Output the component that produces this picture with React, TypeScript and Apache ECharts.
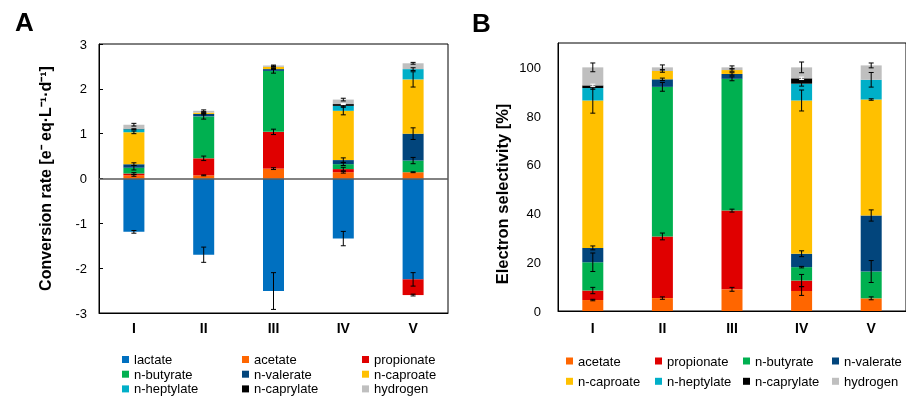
import React, { useEffect, useRef } from "react";
import * as echarts from "echarts";

const categories = ["I", "II", "III", "IV", "V"];
const yTicksA = [-3, -2, -1, 0, 1, 2, 3];

// Panel A: conversion rates [e- eq L-1 d-1]
const lactateA = [-1.19, -1.7, -2.51, -1.34, -2.25];
const acetateA = [0.07, 0.07, 0.22, 0.14, 0.14];
const propionateA = [0.04, 0.38, 0.82, 0.07, -0.35];
const butyrateA = [0.13, 0.935, 1.36, 0.11, 0.26];
const valerateA = [0.08, 0.055, 0.04, 0.09, 0.6];
const caproateA = [0.71, 0.03, 0.05, 1.1, 1.21];
const heptylateA = [0.07, 0, 0, 0.11, 0.23];
const caprylateA = [0.01, 0, 0, 0.04, 0];
const hydrogenA = [0.09, 0.04, 0.03, 0.1, 0.13];

const lactateErrA = [0.03, 0.17, 0.41, 0.16, 0.15];
const acetateErrA = [0.02, 0.01, 0.02, 0.02, 0.01];
const propionateErrA = [0.02, 0.05, 0.06, 0.04, 0.02];
const butyrateErrA = [0.05, 0.06, 0.05, 0.03, 0.07];
const valerateErrA = [0.03, 0.02, 0.01, 0.05, 0.13];
const caproateErrA = [0.03, 0.01, 0.01, 0.09, 0.17];
const heptylateErrA = [0.01, 0, 0, 0.03, 0.03];
const caprylateErrA = [0, 0, 0, 0.01, 0];
const hydrogenErrA = [0.03, 0.02, 0.01, 0.03, 0.02];

// Panel B: electron selectivity [%]
const acetateB = [4.5, 5.3, 8.9, 8.2, 5.2];
const propionateB = [3.9, 25.3, 32.3, 4.3, 0];
const butyrateB = [11.6, 61.4, 54.1, 5.5, 11.0];
const valerateB = [5.9, 3.1, 2.0, 5.5, 23.0];
const caproateB = [60.5, 3.4, 1.6, 62.9, 47.6];
const heptylateB = [5.1, 0, 0, 6.9, 8.1];
const caprylateB = [1.1, 0, 0, 2.2, 0];
const hydrogenB = [7.4, 1.5, 1.1, 4.5, 5.9];

const acetateErrB = [0.3, 0.5, 0.8, 1.8, 0.6];
const propionateErrB = [1.3, 1.4, 0.6, 2.5, 0];
const butyrateErrB = [3.8, 1.8, 0.8, 0.3, 4.5];
const valerateErrB = [0.8, 0.5, 0.5, 1.2, 2.3];
const caproateErrB = [5.2, 0.5, 0.5, 4.3, 0.3];
const heptylateErrB = [0.5, 0, 0, 1.0, 3.0];
const caprylateErrB = [0.5, 0, 0, 0.5, 0];
const hydrogenErrB = [1.8, 1.0, 0.6, 2.2, 1.0];

const colors: Record<string, string> = {
  lactate: "#0070C0",
  acetate: "#FF6600",
  propionate: "#E00000",
  "n-butyrate": "#00B050",
  "n-valerate": "#02457C",
  "n-caproate": "#FFC000",
  "n-heptylate": "#00AFC8",
  "n-caprylate": "#000000",
  hydrogen: "#BFBFBF",
};

const seriesA: [string, number[], number[]][] = [
  ["lactate", lactateA, lactateErrA],
  ["acetate", acetateA, acetateErrA],
  ["propionate", propionateA, propionateErrA],
  ["n-butyrate", butyrateA, butyrateErrA],
  ["n-valerate", valerateA, valerateErrA],
  ["n-caproate", caproateA, caproateErrA],
  ["n-heptylate", heptylateA, heptylateErrA],
  ["n-caprylate", caprylateA, caprylateErrA],
  ["hydrogen", hydrogenA, hydrogenErrA],
];
const seriesB: [string, number[], number[]][] = [
  ["acetate", acetateB, acetateErrB],
  ["propionate", propionateB, propionateErrB],
  ["n-butyrate", butyrateB, butyrateErrB],
  ["n-valerate", valerateB, valerateErrB],
  ["n-caproate", caproateB, caproateErrB],
  ["n-heptylate", heptylateB, heptylateErrB],
  ["n-caprylate", caprylateB, caprylateErrB],
  ["hydrogen", hydrogenB, hydrogenErrB],
];

const FONT = "'Liberation Sans', Arial, sans-serif";

function errorPoints(list: [string, number[], number[]][]) {
  const pos = categories.map(() => 0);
  const neg = categories.map(() => 0);
  const pts: number[][] = [];
  list.forEach(([name, vals, errs]) => {
    vals.forEach((v, i) => {
      if (v === 0) return;
      let top;
      if (v > 0) { pos[i] += v; top = pos[i]; } else { neg[i] += v; top = neg[i]; }
      if (errs[i] > 0) pts.push([i, top, errs[i], name === "n-caprylate" ? 1 : 0]);
    });
  });
  return pts;
}

const renderErr = (_p: any, api: any) => {
  const x = api.value(0), y = api.value(1), e = api.value(2), w = api.value(3);
  const hi = api.coord([x, y + e]);
  const lo = api.coord([x, y - e]);
  const cap = 2.5;
  const stroke = w ? "#ffffff" : "#000000";
  const st = { stroke, lineWidth: 1 };
  return {
    type: "group",
    children: [
      { type: "line", shape: { x1: hi[0], y1: hi[1], x2: lo[0], y2: lo[1] }, style: st },
      { type: "line", shape: { x1: hi[0] - cap, y1: hi[1], x2: hi[0] + cap, y2: hi[1] }, style: st },
      { type: "line", shape: { x1: lo[0] - cap, y1: lo[1], x2: lo[0] + cap, y2: lo[1] }, style: st },
    ],
  };
};

export default function App() {
  const ref = useRef<HTMLDivElement>(null);
  useEffect(() => {
    if (!ref.current) return;
    const chart = echarts.init(ref.current, null, { renderer: "svg" });

    const barsA = seriesA.map(([name, vals], k) => ({
      name,
      type: "bar",
      xAxisIndex: 0,
      yAxisIndex: 0,
      stack: "A",
      barWidth: 21,
      itemStyle: { color: colors[name] },
      data: vals,
      ...(k === 0
        ? {
            markLine: {
              silent: true,
              symbol: "none",
              label: { show: false },
              lineStyle: { color: "#595959", width: 1.5, type: "solid" },
              data: [{ yAxis: 0 }],
            },
          }
        : {}),
    }));
    const barsB = seriesB.map(([name, vals]) => ({
      name,
      type: "bar",
      xAxisIndex: 1,
      yAxisIndex: 1,
      stack: "B",
      barWidth: 21,
      itemStyle: { color: colors[name] },
      data: vals,
    }));

    const legendBase = {
      orient: "vertical",
      itemWidth: 7,
      itemHeight: 7,
      icon: "rect",
      selectedMode: false,
      padding: 0,
      textStyle: { fontFamily: FONT, fontSize: 13, color: "#000", lineHeight: 13 },
    };
    const colsA = [
      ["lactate", "n-butyrate", "n-heptylate"],
      ["acetate", "n-valerate", "n-caprylate"],
      ["propionate", "n-caproate", "hydrogen"],
    ];
    const leftA = [122, 242, 362];
    const colsB = [
      ["acetate", "n-caproate"],
      ["propionate", "n-heptylate"],
      ["n-butyrate", "n-caprylate"],
      ["n-valerate", "hydrogen"],
    ];
    const leftB = [566, 655, 743, 832];
    const legends = [
      ...colsA.map((d, i) => ({ ...legendBase, data: d, left: leftA[i], top: 353, itemGap: 1.7 })),
      ...colsB.map((d, i) => ({ ...legendBase, data: d, left: leftB[i], top: 354.5, itemGap: 7.3 })),
    ];

    chart.setOption({
      animation: false,
      textStyle: { fontFamily: FONT },
      legend: legends,
      grid: [
        { left: 99, right: 458, top: 44, bottom: 83, show: true, borderColor: "#000", borderWidth: 1, backgroundColor: "transparent" },
        { left: 558, right: -2, top: 43, bottom: 85, show: true, borderColor: "#000", borderWidth: 1, backgroundColor: "transparent" },
      ],
      xAxis: [
        {
          type: "category",
          gridIndex: 0,
          data: categories,
          axisLine: { onZero: false, lineStyle: { color: "#000" } },
          axisTick: { show: false },
          axisLabel: { fontFamily: FONT, fontWeight: "bold", fontSize: 14, color: "#000", margin: 8 },
        },
        {
          type: "category",
          gridIndex: 1,
          data: categories,
          axisLine: { lineStyle: { color: "#000" } },
          axisTick: { show: false },
          axisLabel: { fontFamily: FONT, fontWeight: "bold", fontSize: 14, color: "#000", margin: 10 },
        },
      ],
      yAxis: [
        {
          type: "value",
          gridIndex: 0,
          min: yTicksA[0],
          max: yTicksA[yTicksA.length - 1],
          interval: 1,
          name: "Conversion rate [e⁻ eq·L⁻¹·d⁻¹]",
          nameLocation: "middle",
          nameGap: 46,
          nameTextStyle: { fontFamily: FONT, fontWeight: "bold", fontSize: 16, color: "#000" },
          axisLine: { show: true, lineStyle: { color: "#000" } },
          axisTick: { show: true, inside: true, length: 4, lineStyle: { color: "#000" } },
          splitLine: { show: false },
          axisLabel: { fontFamily: FONT, fontSize: 13, color: "#000", margin: 12 },
        },
        {
          type: "value",
          gridIndex: 1,
          min: 0,
          max: 110,
          interval: 20,
          axisLine: { show: true, lineStyle: { color: "#000" } },
          axisTick: { show: false },
          splitLine: { show: false },
          axisLabel: { fontFamily: FONT, fontSize: 13, color: "#000", margin: 17, showMaxLabel: false },
        },
      ],
      graphic: [
        { type: "text", left: 15, top: 9, style: { text: "A", font: `bold 26px ${FONT}`, fill: "#000" } },
        { type: "text", left: 472, top: 10, style: { text: "B", font: `bold 26px ${FONT}`, fill: "#000" } },
        {
          type: "text",
          x: 502,
          y: 194,
          rotation: Math.PI / 2,
          style: {
            text: "Electron selectivity [%]",
            font: `bold 16.5px ${FONT}`,
            fill: "#000",
            align: "center",
            verticalAlign: "middle",
          },
        },
      ],
      series: [
        ...barsA,
        ...barsB,
        {
          type: "custom",
          xAxisIndex: 0,
          yAxisIndex: 0,
          renderItem: renderErr,
          encode: { x: 0, y: 1 },
          data: errorPoints(seriesA),
          z: 10,
          silent: true,
        },
        {
          type: "custom",
          xAxisIndex: 1,
          yAxisIndex: 1,
          renderItem: renderErr,
          encode: { x: 0, y: 1 },
          data: errorPoints(seriesB),
          z: 10,
          silent: true,
        },
      ],
    });
    return () => chart.dispose();
  }, []);
  return <div ref={ref} style={{ position: "fixed", left: 0, top: 0, width: 906, height: 396 }} />;
}
